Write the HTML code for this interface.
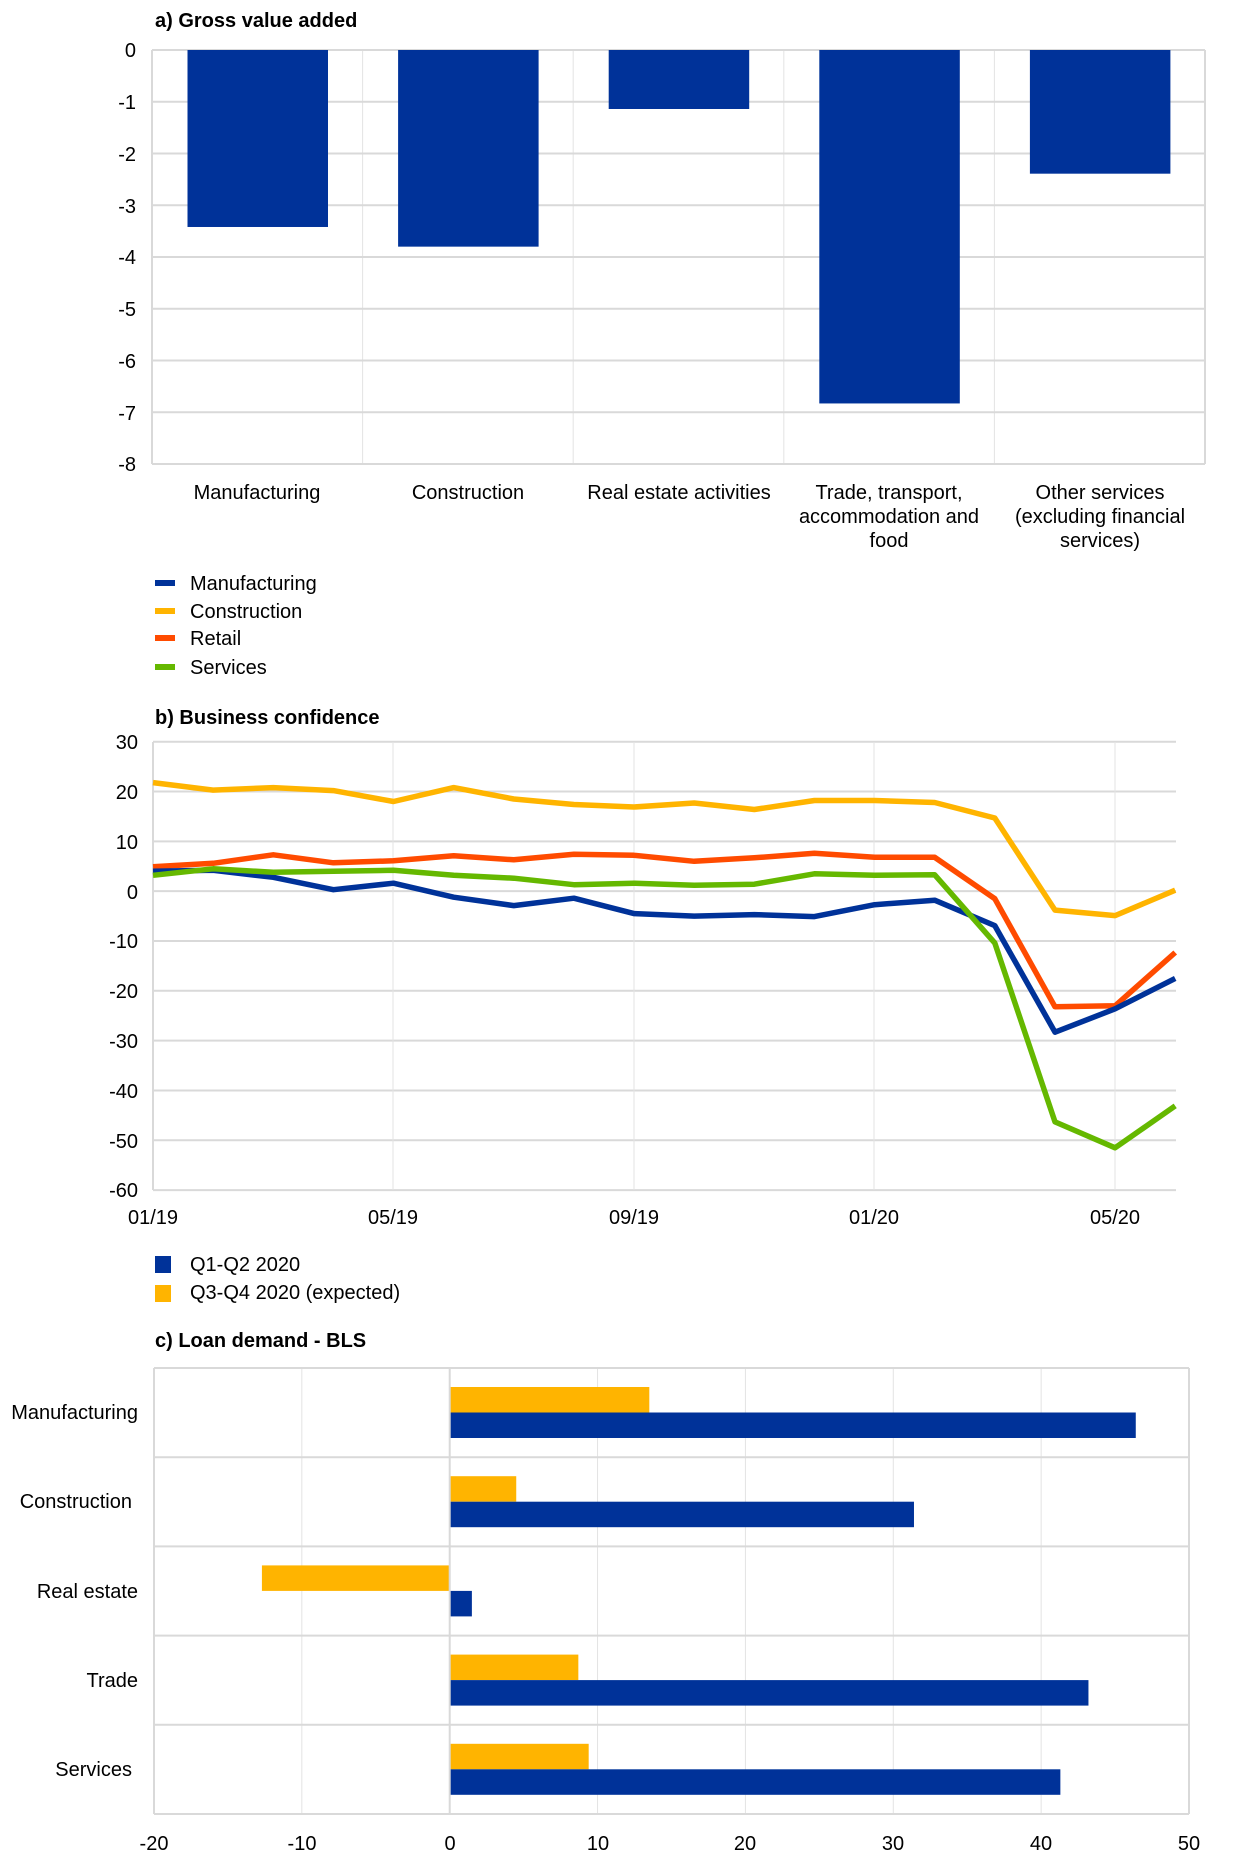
<!DOCTYPE html>
<html><head><meta charset="utf-8"><style>
html,body{margin:0;padding:0;background:#fff;}
svg{display:block;font-family:"Liberation Sans",Arial,sans-serif;}
</style></head><body>
<svg id="s" width="1240" height="1857" viewBox="0 0 1240 1857" xmlns="http://www.w3.org/2000/svg">
<!-- Chart a -->
<text x="155" y="27" font-size="20" font-weight="bold">a) Gross value added</text>
<g id="agrid"></g>
<g id="abars" fill="#003299"></g>
<g font-size="20" text-anchor="end">
<text x="136" y="57">0</text><text x="136" y="109">-1</text><text x="136" y="161">-2</text>
<text x="136" y="213">-3</text><text x="136" y="264">-4</text><text x="136" y="316">-5</text>
<text x="136" y="368">-6</text><text x="136" y="420">-7</text><text x="136" y="471">-8</text>
</g>
<g font-size="20" text-anchor="middle">
<text x="257" y="499">Manufacturing</text>
<text x="468" y="499">Construction</text>
<text x="679" y="499">Real estate activities</text>
<text x="889" y="499">Trade, transport,</text><text x="889" y="523">accommodation and</text><text x="889" y="547">food</text>
<text x="1100" y="499">Other services</text><text x="1100" y="523">(excluding financial</text><text x="1100" y="547">services)</text>
</g>
<!-- legend b -->
<rect x="155" y="580" width="20" height="6" fill="#003299"/>
<rect x="155" y="608" width="20" height="6" fill="#ffb400"/>
<rect x="155" y="635" width="20" height="6" fill="#ff4b00"/>
<rect x="155" y="664" width="20" height="6" fill="#65b800"/>
<g font-size="20">
<text x="190" y="590">Manufacturing</text><text x="190" y="618">Construction</text>
<text x="190" y="645">Retail</text><text x="190" y="674">Services</text>
</g>
<!-- Chart b -->
<text x="155" y="724" font-size="20" font-weight="bold">b) Business confidence</text>
<g id="bgrid" stroke="#d9d9d9" stroke-width="2"></g>
<g font-size="20" text-anchor="end">
<text x="138" y="749">30</text><text x="138" y="799">20</text><text x="138" y="849">10</text>
<text x="138" y="899">0</text><text x="138" y="948">-10</text><text x="138" y="998">-20</text>
<text x="138" y="1048">-30</text><text x="138" y="1098">-40</text><text x="138" y="1148">-50</text>
<text x="138" y="1197">-60</text>
</g>
<g font-size="20" text-anchor="middle">
<text x="153" y="1224">01/19</text><text x="393" y="1224">05/19</text><text x="634" y="1224">09/19</text>
<text x="874" y="1224">01/20</text><text x="1115" y="1224">05/20</text>
</g>
<g id="lines" fill="none" stroke-width="5.5" stroke-linejoin="round"></g>
<!-- legend c -->
<rect x="155" y="1256" width="16" height="17" fill="#003299"/>
<rect x="155" y="1285" width="16" height="17" fill="#ffb400"/>
<g font-size="20"><text x="190" y="1271">Q1-Q2 2020</text><text x="190" y="1299">Q3-Q4 2020 (expected)</text></g>
<text x="155" y="1347" font-size="20" font-weight="bold">c) Loan demand - BLS</text>
<g id="cgrid"></g>
<g font-size="20" text-anchor="end">
<text x="138" y="1419">Manufacturing</text><text x="132" y="1508">Construction</text>
<text x="138" y="1598">Real estate</text><text x="138" y="1687">Trade</text><text x="132" y="1776">Services</text>
</g>
<g font-size="20" text-anchor="middle">
<text x="154" y="1850">-20</text><text x="302" y="1850">-10</text><text x="450" y="1850">0</text>
<text x="598" y="1850">10</text><text x="745" y="1850">20</text><text x="893" y="1850">30</text>
<text x="1041" y="1850">40</text><text x="1189" y="1850">50</text>
</g>
</svg>
<script>
var NS="http://www.w3.org/2000/svg";
function el(p,t,a){var e=document.createElementNS(NS,t);for(var k in a)e.setAttribute(k,a[k]);p.appendChild(e);return e;}
// chart a
var ag=document.getElementById('agrid');
for(var i=0;i<=4;i++){var x=152+i*210.6;el(ag,'line',{x1:x,y1:50,x2:x,y2:464,stroke:'#e3e3e3','stroke-width':1});}
for(var i=0;i<=8;i++){var y=50+i*51.75;el(ag,'line',{x1:152,y1:y,x2:1205,y2:y,stroke:'#d9d9d9','stroke-width':2});}
el(ag,'line',{x1:152,y1:50,x2:152,y2:464,stroke:'#d9d9d9','stroke-width':2});
el(ag,'line',{x1:1205,y1:50,x2:1205,y2:464,stroke:'#d9d9d9','stroke-width':2});
var ab=document.getElementById('abars');
[3.42,3.8,1.14,6.83,2.39].forEach(function(v,i){el(ab,'rect',{x:152+35.5+i*210.6,y:50,width:140.5,height:v*51.75});});
// chart b
var g=document.getElementById('bgrid');
for(var i=0;i<=9;i++){var y=741.7+i*49.82;el(g,'line',{x1:153,y1:y,x2:1176,y2:y});}
[393,634,874,1115].forEach(function(x){el(g,'line',{x1:x,y1:742,x2:x,y2:1190,stroke:'#e3e3e3','stroke-width':1});});
el(g,'line',{x1:153,y1:742,x2:153,y2:1190});
var L=document.getElementById('lines');
function Y(v){return 891.2-v*4.982;}
var D=[
['#ffb400',[21.8,20.3,20.8,20.2,18,20.8,18.5,17.4,16.9,17.7,16.4,18.2,18.2,17.8,14.7,-3.8,-4.9,0.2]],
['#ff4b00',[4.9,5.6,7.3,5.7,6.1,7.1,6.3,7.4,7.2,6,6.7,7.6,6.8,6.8,-1.5,-23.2,-23,-12.3]],
['#003299',[4,4.2,2.8,0.3,1.6,-1.2,-2.9,-1.4,-4.5,-5,-4.7,-5.1,-2.7,-1.8,-6.9,-28.3,-23.6,-17.5]],
['#65b800',[3.2,4.5,3.8,4,4.2,3.2,2.6,1.3,1.6,1.2,1.4,3.5,3.2,3.3,-10.4,-46.3,-51.5,-43.1]]];
D.forEach(function(d){var p=d[1].map(function(v,i){return (153+i*60.13).toFixed(1)+','+Y(v).toFixed(1);}).join(' ');el(L,'polyline',{points:p,stroke:d[0]});});
// chart c
var c=document.getElementById('cgrid');
function X(v){return 449.7+v*14.786;}
for(var v=-10;v<=40;v+=10)el(c,'line',{x1:X(v),y1:1368,x2:X(v),y2:1814,stroke:'#e3e3e3','stroke-width':1});
for(var i=0;i<=5;i++){var y=1368+i*89.2;el(c,'line',{x1:154,y1:y,x2:1189,y2:y,stroke:'#d9d9d9','stroke-width':2});}
el(c,'line',{x1:154,y1:1368,x2:154,y2:1814,stroke:'#d9d9d9','stroke-width':2});
el(c,'line',{x1:1189,y1:1368,x2:1189,y2:1814,stroke:'#d9d9d9','stroke-width':2});
var B=[[13.5,46.4],[4.5,31.4],[-12.7,1.5],[8.7,43.2],[9.4,41.3]];
B.forEach(function(b,i){var y0=1368+i*89.2+19;
 function r(v,y,col){var a=Math.min(X(0),X(v)),w=Math.abs(X(v)-X(0));el(c,'rect',{x:a,y:y,width:w,height:25.5,fill:col});}
 r(b[0],y0,'#ffb400');r(b[1],y0+25.5,'#003299');});
el(c,'line',{x1:X(0),y1:1368,x2:X(0),y2:1814,stroke:'#d9d9d9','stroke-width':2});
</script>
</body></html>
